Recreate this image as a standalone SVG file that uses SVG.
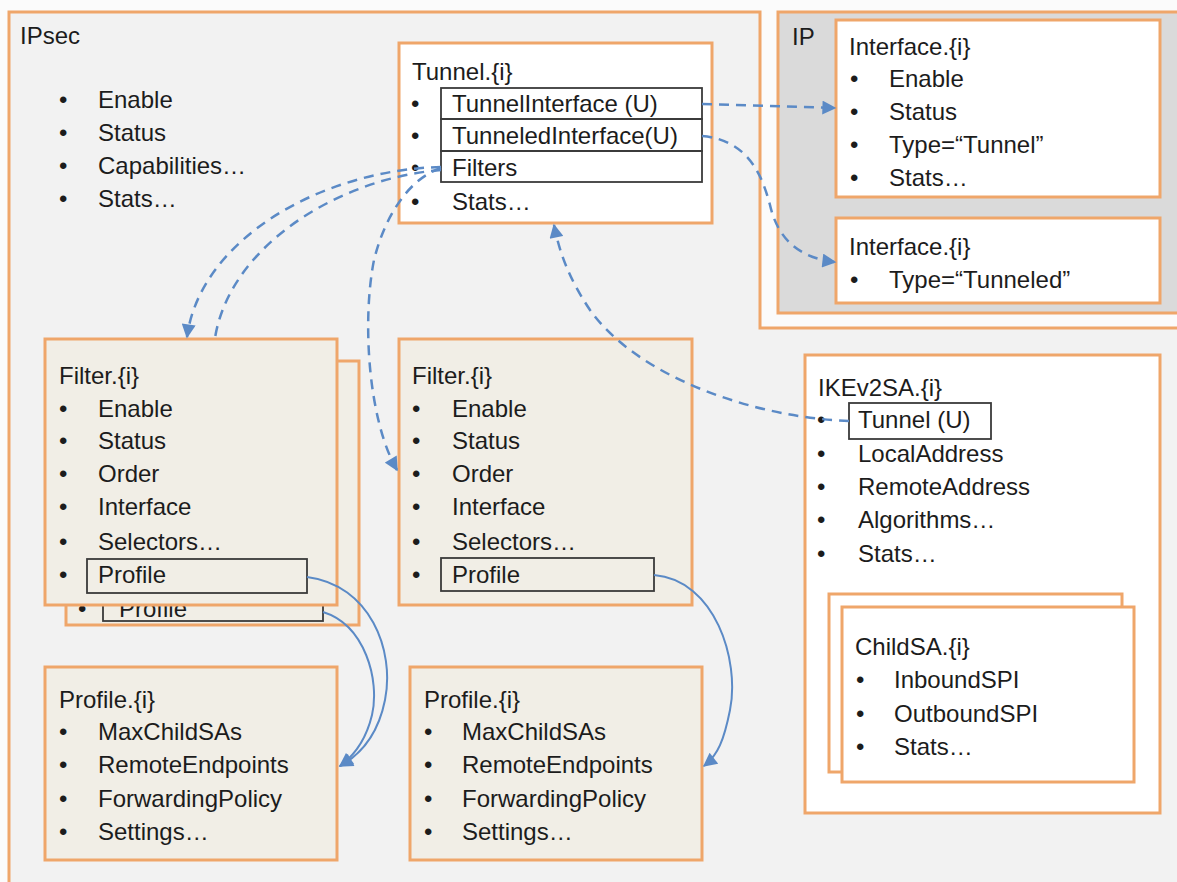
<svg xmlns="http://www.w3.org/2000/svg" width="1177" height="882" viewBox="0 0 1177 882">
<style>
.box{stroke:#efa66a;stroke-width:3}
.w{fill:#ffffff}
.bg{fill:#f1eee6}
.t{font-family:"Liberation Sans",Arial,sans-serif;font-size:24px;fill:#1c1c1c}
.fld{fill:none;stroke:#3a3a3a;stroke-width:1.8}
.dash{fill:none;stroke:#5b8ac6;stroke-width:2.5;stroke-dasharray:10 7}
.sol{fill:none;stroke:#5b8ac6;stroke-width:2}
</style>
<defs>
<marker id="ah" viewBox="0 0 10 10" refX="9" refY="5" markerWidth="16" markerHeight="14" markerUnits="userSpaceOnUse" orient="auto"><path d="M0,0 L10,5 L0,10 z" fill="#5b8ac6"/></marker>
</defs>
<rect x="0" y="0" width="1177" height="882" fill="#fbfbfb"/>
<g id="ipsec">
<path class="box" d="M9,12 H760 V328 H1190 V895 H9 Z" fill="#f2f2f2"/>
<text class="t" x="20" y="44">IPsec</text>
<text class="t" x="59" y="108">•</text><text class="t" x="98" y="108">Enable</text>
<text class="t" x="59" y="141">•</text><text class="t" x="98" y="141">Status</text>
<text class="t" x="59" y="174">•</text><text class="t" x="98" y="174">Capabilities…</text>
<text class="t" x="59" y="207">•</text><text class="t" x="98" y="207">Stats…</text>
</g>
<g id="ip">
<rect class="box" x="778" y="12" width="420" height="301" fill="#dadada"/>
<text class="t" x="792" y="45">IP</text>
</g>
<g id="iface1">
<rect class="box w" x="836" y="20" width="324" height="177"/>
<text class="t" x="849" y="55">Interface.{i}</text>
<text class="t" x="850" y="87">•</text><text class="t" x="889" y="87">Enable</text>
<text class="t" x="850" y="120">•</text><text class="t" x="889" y="120">Status</text>
<text class="t" x="850" y="153">•</text><text class="t" x="889" y="153">Type=“Tunnel”</text>
<text class="t" x="850" y="186">•</text><text class="t" x="889" y="186">Stats…</text>
</g>
<g id="iface2">
<rect class="box w" x="836" y="218" width="324" height="85"/>
<text class="t" x="849" y="255">Interface.{i}</text>
<text class="t" x="850" y="288">•</text><text class="t" x="889" y="288">Type=“Tunneled”</text>
</g>
<g id="tunnel">
<rect class="box w" x="399" y="43" width="313" height="180"/>
<text class="t" x="412" y="80">Tunnel.{i}</text>
<text class="t" x="411" y="112">•</text>
<text class="t" x="411" y="144">•</text>
<text class="t" x="411" y="176">•</text>
<text class="t" x="411" y="210">•</text>
<rect class="fld" x="441" y="88" width="261" height="31"/>
<rect class="fld" x="441" y="119" width="261" height="32"/>
<rect class="fld" x="441" y="151" width="261" height="31"/>
<text class="t" x="452" y="112">TunnelInterface (U)</text>
<text class="t" x="452" y="144">TunneledInterface(U)</text>
<text class="t" x="452" y="176">Filters</text>
<text class="t" x="452" y="210">Stats…</text>
</g>
<g id="filter-left-back">
<rect class="box bg" x="66" y="361" width="293" height="264"/>
<text class="t" x="78" y="617">•</text>
<rect class="fld" x="103" y="585" width="220" height="36"/>
<text class="t" x="119" y="617">Profile</text>
</g>
<g id="filter-left">
<rect class="box bg" x="45" y="339" width="292" height="266"/>
<text class="t" x="59" y="384">Filter.{i}</text>
<text class="t" x="59" y="417">•</text><text class="t" x="98" y="417">Enable</text>
<text class="t" x="59" y="449">•</text><text class="t" x="98" y="449">Status</text>
<text class="t" x="59" y="482">•</text><text class="t" x="98" y="482">Order</text>
<text class="t" x="59" y="515">•</text><text class="t" x="98" y="515">Interface</text>
<text class="t" x="59" y="550">•</text><text class="t" x="98" y="550">Selectors…</text>
<text class="t" x="59" y="583">•</text>
<rect class="fld" x="87" y="559" width="220" height="34"/>
<text class="t" x="98" y="583">Profile</text>
</g>
<g id="filter-mid">
<rect class="box bg" x="399" y="339" width="293" height="266"/>
<text class="t" x="412" y="384">Filter.{i}</text>
<text class="t" x="412" y="417">•</text><text class="t" x="452" y="417">Enable</text>
<text class="t" x="412" y="449">•</text><text class="t" x="452" y="449">Status</text>
<text class="t" x="412" y="482">•</text><text class="t" x="452" y="482">Order</text>
<text class="t" x="412" y="515">•</text><text class="t" x="452" y="515">Interface</text>
<text class="t" x="412" y="550">•</text><text class="t" x="452" y="550">Selectors…</text>
<text class="t" x="412" y="583">•</text>
<rect class="fld" x="441" y="558" width="213" height="33"/>
<text class="t" x="452" y="583">Profile</text>
</g>
<g id="ikev2sa">
<rect class="box w" x="805" y="355" width="355" height="458"/>
<text class="t" x="818" y="396">IKEv2SA.{i}</text>
<text class="t" x="817" y="428">•</text>
<rect class="fld" x="849" y="403" width="142" height="36"/>
<text class="t" x="858" y="428">Tunnel (U)</text>
<text class="t" x="817" y="462">•</text><text class="t" x="858" y="462">LocalAddress</text>
<text class="t" x="817" y="495">•</text><text class="t" x="858" y="495">RemoteAddress</text>
<text class="t" x="817" y="528">•</text><text class="t" x="858" y="528">Algorithms…</text>
<text class="t" x="817" y="562">•</text><text class="t" x="858" y="562">Stats…</text>
</g>
<g id="childsa">
<rect class="box w" x="829" y="594" width="293" height="178"/>
<rect class="box w" x="842" y="607" width="292" height="175"/>
<text class="t" x="855" y="655">ChildSA.{i}</text>
<text class="t" x="856" y="688">•</text><text class="t" x="894" y="688">InboundSPI</text>
<text class="t" x="856" y="722">•</text><text class="t" x="894" y="722">OutboundSPI</text>
<text class="t" x="856" y="755">•</text><text class="t" x="894" y="755">Stats…</text>
</g>
<g id="profile-left">
<rect class="box bg" x="45" y="667" width="292" height="193"/>
<text class="t" x="59" y="708">Profile.{i}</text>
<text class="t" x="59" y="740">•</text><text class="t" x="98" y="740">MaxChildSAs</text>
<text class="t" x="59" y="773">•</text><text class="t" x="98" y="773">RemoteEndpoints</text>
<text class="t" x="59" y="807">•</text><text class="t" x="98" y="807">ForwardingPolicy</text>
<text class="t" x="59" y="840">•</text><text class="t" x="98" y="840">Settings…</text>
</g>
<g id="profile-right">
<rect class="box bg" x="410" y="667" width="292" height="193"/>
<text class="t" x="424" y="708">Profile.{i}</text>
<text class="t" x="424" y="740">•</text><text class="t" x="462" y="740">MaxChildSAs</text>
<text class="t" x="424" y="773">•</text><text class="t" x="462" y="773">RemoteEndpoints</text>
<text class="t" x="424" y="807">•</text><text class="t" x="462" y="807">ForwardingPolicy</text>
<text class="t" x="424" y="840">•</text><text class="t" x="462" y="840">Settings…</text>
</g>
<g id="connectors">
<path class="dash" d="M702,104 L835,108" marker-end="url(#ah)"/>
<path class="dash" d="M702,136 C748,140 762,175 770,205 C778,240 800,258 835,262" marker-end="url(#ah)"/>
<path class="dash" d="M441,167 C320,170 200,240 187,337" marker-end="url(#ah)"/>
<path class="dash" d="M441,170 C340,178 230,245 215,338"/>
<path class="dash" d="M441,168 C410,178 385,215 374,260 C362,320 368,420 397,470" marker-end="url(#ah)"/>
<path class="dash" d="M849,421 C760,418 640,380 590,310 C570,280 560,255 554,225" marker-end="url(#ah)"/>
<path class="sol" d="M307,577 C370,585 395,650 385,700 C378,735 360,755 340,766" marker-end="url(#ah)"/>
<path class="sol" d="M323,612 C365,625 380,680 372,715 C366,740 355,755 340,766" marker-end="url(#ah)"/>
<path class="sol" d="M654,575 C715,580 740,660 730,710 C724,740 718,755 704,766" marker-end="url(#ah)"/>
</g>
</svg>
